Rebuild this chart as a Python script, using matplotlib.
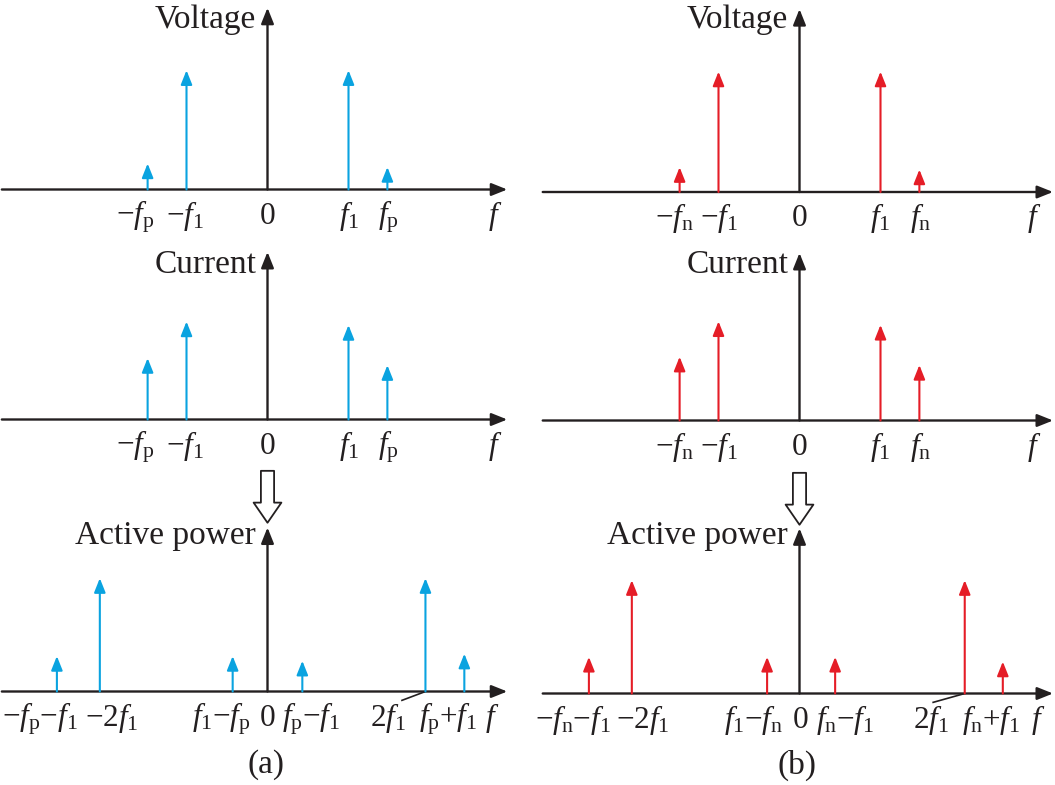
import matplotlib
matplotlib.use('Agg')
import matplotlib.pyplot as plt

plt.rcParams['font.family'] = ['Liberation Serif', 'DejaVu Serif']
plt.rcParams['mathtext.fontset'] = 'custom'
plt.rcParams['mathtext.rm'] = 'Liberation Serif'
plt.rcParams['mathtext.it'] = 'Liberation Serif:italic'
plt.rcParams['mathtext.bf'] = 'Liberation Serif:bold'

# ---------------- data (frequencies in units of f1 as drawn, amplitudes normalised) ----------------
f1 = 1.0
fp = 1.48
fn = 1.48
vc_freq_a = [-fp, -f1, f1, fp]
vc_freq_b = [-fn, -f1, f1, fn]
volt_a = [0.22, 1.01, 1.01, 0.19]
curr_a = [0.52, 0.83, 0.80, 0.46]
volt_b = [0.21, 1.02, 1.02, 0.19]
curr_b = [0.54, 0.84, 0.81, 0.47]
power_freq_a = [-2.60, -2.07, -0.43, 0.43, 1.95, 2.43]
power_a = [0.30, 0.96, 0.30, 0.26, 0.96, 0.32]
power_freq_b = [-2.60, -2.07, -0.40, 0.44, 2.04, 2.51]
power_b = [0.31, 0.96, 0.31, 0.31, 0.96, 0.27]

titles = ['Voltage', 'Current', 'Active power']
vc_labels_a = [r'$-f_\mathrm{p}$', r'$-f_1$', '0', r'$f_1$', r'$f_\mathrm{p}$', r'$f$']
vc_labels_b = [r'$-f_\mathrm{n}$', r'$-f_1$', '0', r'$f_1$', r'$f_\mathrm{n}$', r'$f$']
power_labels_a = [r'$-f_\mathrm{p}{-}f_1$', r'$-2f_1$', r'$f_1{-}f_\mathrm{p}$', '0',
                  r'$f_\mathrm{p}{-}f_1$', r'$2f_1$', r'$f_\mathrm{p}{+}f_1$', r'$f$']
power_labels_b = [r'$-f_\mathrm{n}{-}f_1$', r'$-2f_1$', r'$f_1{-}f_\mathrm{n}$', '0',
                  r'$f_\mathrm{n}{-}f_1$', r'$2f_1$', r'$f_\mathrm{n}{+}f_1$', r'$f$']
captions = ['(a)', '(b)']

# ---------------- layout ----------------
W, H = 1055, 785
SX, SY = 81.0, 118.0          # px per data unit
X0, X1, Y0, Y1 = -3.3, 3.2, -0.6, 1.6
FS_TICK = 22.5
FS_TITLE = 24
BLUE = '#0AA3E0'
RED = '#E51D27'
BLACK = '#231F20'

vc_label_x_a = [-1.63, -1.02, 0, 1.01, 1.49, 2.81]
vc_label_x_b = [-1.55, -1.0, 0, 1.0, 1.49, 2.90]
power_label_x_a = [-2.81, -1.92, -0.57, 0, 0.54, 1.49, 2.23, 2.77]
power_label_x_b = [-2.80, -1.93, -0.57, 0.01, 0.57, 1.62, 2.37, 2.95]

fig = plt.figure(figsize=(W / 100, H / 100), dpi=100)
fig.patch.set_facecolor('white')

axis_arrow = dict(arrowstyle='-|>,head_length=0.95,head_width=0.38', color=BLACK, lw=1.7,
                  shrinkA=0, shrinkB=0, mutation_scale=10)


def panel(ox, base, xa, xb, ytop, freqs, amps, color, title, title_y, labels, label_x):
    left = (ox + X0 * SX) / W
    width = (X1 - X0) * SX / W
    bottom = (H - (base - Y0 * SY)) / H
    height = (Y1 - Y0) * SY / H
    ax = fig.add_axes([left, bottom, width, height])
    ax.set_xlim(X0, X1)
    ax.set_ylim(Y0, Y1)
    ax.axis('off')
    ax.annotate('', xy=(xb, 0), xytext=(xa, 0), arrowprops=axis_arrow, annotation_clip=False)
    ax.annotate('', xy=(0, ytop), xytext=(0, 0), arrowprops=axis_arrow, annotation_clip=False)
    for f, a in zip(freqs, amps):
        ax.annotate('', xy=(f, a), xytext=(f, 0), annotation_clip=False,
                    arrowprops=dict(arrowstyle='-|>,head_length=0.85,head_width=0.34',
                                    color=color, lw=1.5, shrinkA=0, shrinkB=0,
                                    mutation_scale=10))
    ax.text(-0.14, title_y, title, ha='right', va='baseline', fontsize=FS_TITLE, color=BLACK)
    for lx, lab in zip(label_x, labels):
        ax.text(lx, -0.29, lab, ha='center', va='baseline', fontsize=FS_TICK, color=BLACK)
    return ax


cols = [
    dict(ox=267.5, xa=-3.28, xb=2.96, bases=[189.5, 419.5, 691.5], tops=[1.54, 1.42, 1.39],
         ty=[1.37, 1.24, 1.25], color=BLUE, vc_freq=vc_freq_a, volt=volt_a, curr=curr_a,
         pf=power_freq_a, pw=power_a, vcl=vc_labels_a, vclx=vc_label_x_a,
         pl=power_labels_a, plx=power_label_x_a, lead=1.66, cap=captions[0], capx=266),
    dict(ox=799.5, xa=-3.17, xb=3.13, bases=[192, 420.5, 693.5], tops=[1.55, 1.42, 1.40],
         ty=[1.39, 1.25, 1.27], color=RED, vc_freq=vc_freq_b, volt=volt_b, curr=curr_b,
         pf=power_freq_b, pw=power_b, vcl=vc_labels_b, vclx=vc_label_x_b,
         pl=power_labels_b, plx=power_label_x_b, lead=1.65, cap=captions[1], capx=797),
]

for c in cols:
    panel(c['ox'], c['bases'][0], c['xa'], c['xb'], c['tops'][0], c['vc_freq'], c['volt'],
          c['color'], titles[0], c['ty'][0], c['vcl'], c['vclx'])
    panel(c['ox'], c['bases'][1], c['xa'], c['xb'], c['tops'][1], c['vc_freq'], c['curr'],
          c['color'], titles[1], c['ty'][1], c['vcl'], c['vclx'])
    axp = panel(c['ox'], c['bases'][2], c['xa'], c['xb'], c['tops'][2], c['pf'], c['pw'],
                c['color'], titles[2], c['ty'][2], c['pl'], c['plx'])
    # leader line from the 2f1 label to its line
    axp.plot([c['lead'], c['pf'][4]], [-0.075, 0], color=BLACK, lw=1.2, clip_on=False)
    # hollow "implies" arrow between current and active power
    axp.annotate('', xy=(0, 1.43), xytext=(0, 1.87), annotation_clip=False,
                 arrowprops=dict(arrowstyle='simple,head_length=1.45,head_width=2.0,tail_width=0.95',
                                 fc='white', ec=BLACK, lw=1.3, shrinkA=0, shrinkB=0,
                                 mutation_scale=10))
    fig.text(c['capx'] / W, 1 - 765 / H, c['cap'], ha='center', va='center', fontsize=FS_TITLE,
             color=BLACK)

fig.savefig('out.png', dpi=100, facecolor='white')
